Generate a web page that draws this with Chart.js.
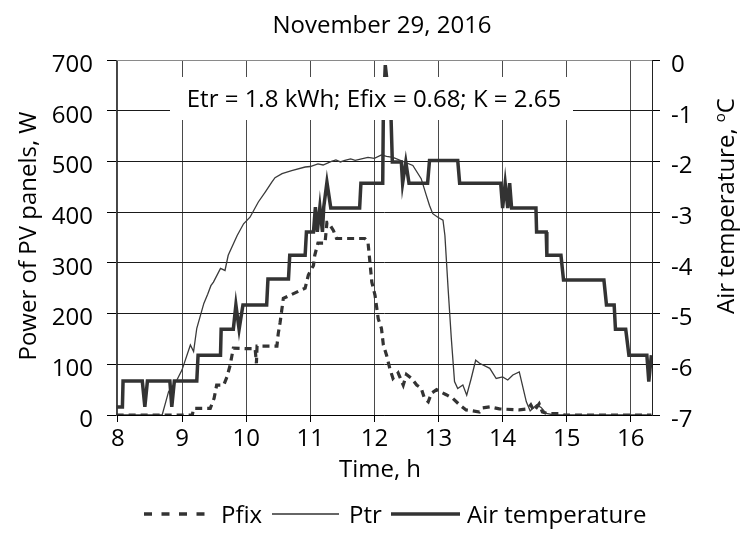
<!DOCTYPE html>
<html>
<head>
<meta charset="utf-8">
<script src="https://cdn.jsdelivr.net/npm/chart.js@4.4.1/dist/chart.umd.min.js"></script>
<style>
  html, body { margin: 0; padding: 0; background: #fff; }
  #wrap { width: 741px; height: 550px; }
</style>
</head>
<body>
<div id="wrap"><canvas id="chart" width="741" height="550"></canvas></div>
<script>
// hours of the day
const pfixTime = [7.98, 9.16, 9.18, 9.44, 9.50, 9.54, 9.65, 9.70, 9.75, 9.80, 9.98, 10.14, 10.16, 10.17, 10.48, 10.50, 10.53, 10.58, 10.68, 10.92, 10.97, 11.05, 11.07, 11.12, 11.23, 11.26, 11.28, 11.36, 11.41, 11.85, 11.90, 11.93, 11.96, 12.01, 12.06, 12.11, 12.14, 12.19, 12.24, 12.29, 12.37, 12.45, 12.50, 12.58, 12.66, 12.73, 12.78, 12.84, 12.89, 12.97, 13.04, 13.12, 13.22, 13.33, 13.43, 13.64, 13.69, 13.80, 13.95, 14.26, 14.39, 14.44, 14.49, 14.57, 14.62, 14.70, 14.91, 14.96, 16.32];
const pfixPower = [0, 0, 13, 13, 33, 59, 59, 75, 98, 132, 131, 131, 102, 136, 136, 160, 183, 230, 236, 250, 276, 295, 315, 339, 339, 380, 380, 364, 348, 348, 341, 302, 262, 236, 190, 171, 138, 118, 92, 72, 83, 59, 80, 72, 59, 53, 33, 26, 43, 50, 45, 40, 33, 20, 10, 6, 14, 16, 12, 10, 12, 20, 8, 22, 6, 3, 3, 0, 0];

const ptrTime = [7.98, 8.69, 8.79, 8.92, 9.00, 9.13, 9.18, 9.23, 9.34, 9.40, 9.45, 9.49, 9.60, 9.67, 9.72, 9.86, 9.96, 10.06, 10.19, 10.30, 10.40, 10.45, 10.56, 10.71, 10.92, 11.00, 11.12, 11.20, 11.33, 11.40, 11.47, 11.54, 11.63, 11.70, 11.80, 11.90, 12.00, 12.11, 12.19, 12.29, 12.60, 12.73, 12.81, 12.86, 12.91, 12.99, 13.07, 13.10, 13.15, 13.20, 13.25, 13.30, 13.38, 13.44, 13.51, 13.58, 13.64, 13.80, 13.90, 14.00, 14.08, 14.16, 14.26, 14.37, 14.43, 14.53, 14.60, 14.68, 14.81, 16.32];
const ptrPower = [0, 0, 46, 69, 89, 138, 125, 171, 220, 238, 255, 262, 289, 285, 315, 354, 377, 390, 420, 440, 459, 468, 476, 482, 489, 490, 495, 493, 500, 503, 499, 502, 505, 502, 505, 508, 506, 513, 510, 508, 492, 466, 433, 413, 397, 390, 384, 354, 249, 151, 66, 52, 59, 39, 72, 108, 102, 92, 72, 75, 69, 79, 85, 26, 8, 20, 15, 3, 0, 0];

const airTime = [7.98, 8.07, 8.08, 8.38, 8.42, 8.46, 8.81, 8.84, 8.88, 9.23, 9.25, 9.60, 9.61, 9.80, 9.84, 9.89, 9.95, 10.32, 10.34, 10.66, 10.68, 10.92, 10.94, 11.05, 11.08, 11.11, 11.15, 11.19, 11.21, 11.26, 11.32, 11.77, 11.79, 12.13, 12.14, 12.17, 12.26, 12.28, 12.42, 12.44, 12.49, 12.54, 12.83, 12.86, 13.30, 13.33, 13.97, 14.00, 14.04, 14.08, 14.11, 14.14, 14.52, 14.53, 14.68, 14.69, 14.91, 14.95, 15.58, 15.62, 15.74, 15.76, 15.92, 15.97, 16.25, 16.28, 16.32];
const airTemp = [-6.84, -6.84, -6.33, -6.33, -6.84, -6.33, -6.33, -6.84, -6.33, -6.33, -5.82, -5.82, -5.31, -5.31, -4.83, -5.31, -4.83, -4.83, -4.32, -4.32, -3.85, -3.85, -3.39, -3.39, -2.9, -3.39, -2.9, -3.39, -2.9, -2.41, -2.92, -2.92, -2.43, -2.43, -1.0, -0.1, -1.15, -2.01, -2.01, -2.43, -2.01, -2.43, -2.43, -1.98, -1.98, -2.43, -2.43, -2.92, -2.43, -2.92, -2.43, -2.92, -2.92, -3.39, -3.39, -3.85, -3.85, -4.34, -4.34, -4.83, -4.83, -5.31, -5.31, -5.82, -5.82, -6.34, -5.82];

const seriesNames = ['Pfix', 'Ptr', 'Air temperature'];
const chartTitle = 'November 29, 2016';
const boxText = 'Etr = 1.8 kWh; Efix = 0.68; K = 2.65';

const FONT = "'Open Sans', 'DejaVu Sans', sans-serif";
const INK = '#333333';

function pts(xs, ys) {
  return xs.map((x, i) => ({ x: x, y: ys[i] }));
}

// title, axis titles, legend and the white text box
const decor = {
  id: 'decor',
  afterDatasetsDraw(chart) {
    const ctx = chart.ctx;
    ctx.save();
    ctx.fillStyle = '#fff';
    ctx.fillRect(170, 77, 403, 43);
    ctx.fillStyle = '#000';
    let size = 24;
    ctx.font = size + 'px ' + FONT;
    while (ctx.measureText(boxText).width > 384 && size > 10) {
      size -= 0.5;
      ctx.font = size + 'px ' + FONT;
    }
    ctx.textAlign = 'center';
    ctx.textBaseline = 'alphabetic';
    ctx.fillText(boxText, 374, 107);
    ctx.restore();
  },
  afterDraw(chart) {
    const ctx = chart.ctx;
    ctx.save();
    ctx.fillStyle = '#000';
    ctx.font = '24px ' + FONT;
    ctx.textBaseline = 'alphabetic';

    ctx.textAlign = 'center';
    ctx.fillText(chartTitle, 382, 33);
    ctx.fillText('Time, h', 380, 477);

    // left axis title
    ctx.save();
    ctx.translate(36, 236);
    ctx.rotate(-Math.PI / 2);
    ctx.fillText('Power of PV panels, W', 0, 0);
    ctx.restore();

    // right axis title with superscript o
    ctx.save();
    ctx.translate(734, 206);
    ctx.rotate(-Math.PI / 2);
    const main = 'Air temperature, ';
    ctx.font = '24px ' + FONT;
    const w1 = ctx.measureText(main).width;
    ctx.font = '15px ' + FONT;
    const w2 = ctx.measureText('o').width;
    ctx.font = '24px ' + FONT;
    const w3 = ctx.measureText('C').width;
    let x0 = -(w1 + w2 + w3) / 2;
    ctx.textAlign = 'left';
    ctx.fillText(main, x0, 0);
    ctx.font = '15px ' + FONT;
    ctx.fillText('o', x0 + w1, -9);
    ctx.font = '24px ' + FONT;
    ctx.fillText('C', x0 + w1 + w2, 0);
    ctx.restore();

    // legend
    const ly = 514;
    ctx.textAlign = 'left';
    ctx.strokeStyle = INK;
    ctx.lineWidth = 3.5;
    ctx.setLineDash([8, 9.5]);
    ctx.beginPath(); ctx.moveTo(144, ly); ctx.lineTo(212, ly); ctx.stroke();
    ctx.setLineDash([]);
    ctx.fillText(seriesNames[0], 221, ly + 9);
    ctx.lineWidth = 1.3;
    ctx.beginPath(); ctx.moveTo(272, ly); ctx.lineTo(339, ly); ctx.stroke();
    ctx.fillText(seriesNames[1], 349, ly + 9);
    ctx.lineWidth = 3.5;
    ctx.beginPath(); ctx.moveTo(391, ly); ctx.lineTo(460, ly); ctx.stroke();
    ctx.fillText(seriesNames[2], 467, ly + 9);
    ctx.restore();
  }
};

const tickFont = { family: FONT, size: 24 };

new Chart(document.getElementById('chart'), {
  type: 'line',
  data: {
    datasets: [
      {
        label: seriesNames[2],
        data: pts(airTime, airTemp),
        yAxisID: 'y2',
        borderColor: INK,
        borderWidth: 3.5,
        pointRadius: 0,
        tension: 0,
        order: 0
      },
      {
        label: seriesNames[1],
        data: pts(ptrTime, ptrPower),
        yAxisID: 'y',
        borderColor: '#3a3a3a',
        borderWidth: 1.3,
        pointRadius: 0,
        tension: 0,
        order: 1
      },
      {
        label: seriesNames[0],
        data: pts(pfixTime, pfixPower),
        yAxisID: 'y',
        borderColor: INK,
        borderWidth: 3.2,
        borderDash: [7, 5],
        pointRadius: 0,
        tension: 0,
        order: 2
      }
    ]
  },
  options: {
    responsive: false,
    animation: false,
    devicePixelRatio: 1,
    layout: { padding: { top: 60, left: 0, right: 0, bottom: 0 } },
    plugins: {
      legend: { display: false },
      title: { display: false },
      tooltip: { enabled: false }
    },
    scales: {
      x: {
        type: 'linear',
        position: 'bottom',
        min: 7.97,
        max: 16.33,
        afterFit: s => { s.height = 135; },
        ticks: { stepSize: 1, includeBounds: false, autoSkip: false, maxRotation: 0, padding: 3, color: '#000', font: tickFont },
        grid: { color: '#4a4a4a', lineWidth: 1, tickLength: 7, tickColor: '#000' },
        border: { color: '#000', width: 1 }
      },
      y: {
        position: 'left',
        min: 0,
        max: 700,
        afterFit: s => { s.width = 116; },
        ticks: { stepSize: 100, padding: 14, labelOffset: 5, color: '#000', font: tickFont },
        grid: {
          color: c => (c.tick && c.tick.value === 700) ? '#8a8a8a' : '#1a1a1a',
          lineWidth: 1,
          tickLength: 9,
          tickColor: '#000'
        },
        border: { color: '#444', width: 1 }
      },
      y2: {
        position: 'right',
        min: -7,
        max: 0,
        afterFit: s => { s.width = 89; },
        ticks: { stepSize: 1, padding: 11, labelOffset: 5, color: '#000', font: tickFont },
        grid: { drawOnChartArea: false, tickLength: 8, tickColor: '#000' },
        border: { color: '#222', width: 1 }
      }
    }
  },
  plugins: [decor]
});
</script>
</body>
</html>
